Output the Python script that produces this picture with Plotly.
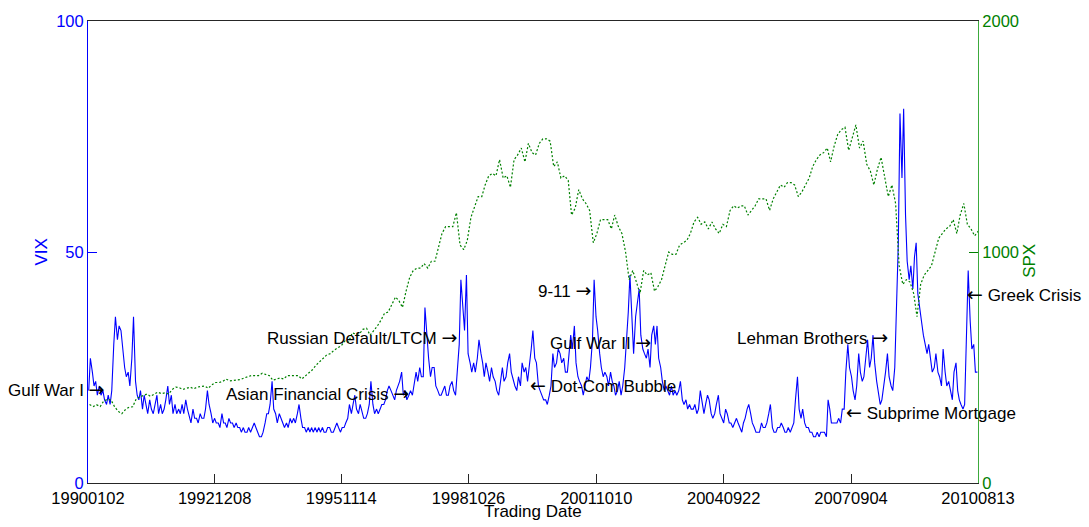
import plotly.graph_objects as go
import pandas as pd

# VIX: two readings per month (around the 8th and the 22nd), Jan 1990 .. Aug 2010
vix = [
    # 1990
    20, 27, 24, 21, 22, 19, 21, 19, 20, 18, 17, 19, 17, 20, 30, 36, 31, 34, 33, 29, 25, 23, 24, 21,
    # 1991
    27, 36, 22, 19, 18, 20, 16, 19, 17, 15, 18, 16, 15, 17, 19, 15, 17, 15, 16, 18, 21, 17, 19, 15,
    # 1992
    17, 15, 16, 15, 17, 15, 18, 16, 14, 13, 16, 14, 14, 13, 15, 14, 14, 16, 20, 17, 15, 13, 14, 13,
    # 1993
    13, 12, 15, 13, 13, 12, 14, 13, 13, 12, 13, 12, 12, 11, 12, 11, 11, 12, 11, 12, 13, 12, 11, 10,
    # 1994
    10, 11, 13, 15, 15, 17, 22, 16, 15, 13, 15, 14, 13, 12, 13, 12, 14, 13, 14, 13, 15, 17, 14, 12,
    # 1995
    12, 11, 12, 11, 12, 11, 12, 11, 12, 11, 12, 11, 11, 12, 12, 11, 11, 12, 13, 12, 11, 12, 12, 13,
    # 1996
    14, 17, 15, 17, 19, 16, 15, 17, 15, 14, 14, 15, 17, 22, 17, 15, 16, 15, 16, 17, 17, 18, 20, 21,
    # 1997
    20, 19, 18, 20, 21, 22, 24, 19, 20, 18, 19, 20, 19, 21, 24, 22, 25, 23, 23, 38, 31, 27, 23, 25,
    # 1998
    25, 21, 20, 19, 19, 20, 21, 19, 19, 21, 22, 20, 19, 24, 30, 44, 38, 33, 45, 28, 26, 24, 26, 24,
    # 1999
    27, 31, 28, 26, 23, 26, 24, 22, 25, 23, 22, 20, 19, 22, 25, 22, 23, 26, 28, 24, 22, 21, 20, 23,
    # 2000
    21, 26, 24, 25, 22, 25, 29, 33, 27, 26, 21, 20, 19, 18, 18, 17, 19, 21, 28, 25, 26, 29, 28, 26,
    # 2001
    27, 24, 24, 28, 32, 29, 34, 26, 23, 22, 21, 19, 21, 23, 22, 25, 31, 44, 36, 33, 28, 25, 23, 24,
    # 2002
    23, 21, 24, 22, 21, 19, 20, 22, 19, 21, 25, 30, 37, 45, 34, 28, 36, 39, 42, 32, 29, 28, 27, 29,
    # 2003
    25, 32, 34, 30, 34, 27, 25, 22, 20, 21, 20, 19, 21, 19, 20, 19, 20, 22, 18, 17, 18, 16, 17, 16,
    # 2004
    16, 17, 15, 16, 20, 18, 15, 17, 19, 18, 15, 14, 15, 17, 19, 15, 14, 13, 16, 15, 13, 13, 12, 13,
    # 2005
    14, 13, 12, 11, 13, 14, 16, 17, 15, 13, 12, 11, 11, 11, 13, 12, 12, 13, 15, 17, 12, 11, 11, 12,
    # 2006
    12, 13, 12, 11, 11, 12, 11, 12, 13, 18, 23, 16, 14, 16, 13, 12, 12, 11, 11, 10, 10, 11, 10, 11,
    # 2007
    11, 11, 10, 18, 16, 13, 13, 13, 13, 14, 13, 16, 16, 24, 30, 25, 23, 20, 18, 21, 28, 24, 22, 23,
    # 2008
    27, 31, 25, 27, 32, 26, 22, 20, 17, 18, 21, 24, 28, 23, 21, 20, 25, 36, 52, 80, 66, 81, 58, 48,
    # 2009
    44, 47, 42, 49, 52, 41, 37, 35, 32, 30, 28, 30, 26, 24, 25, 28, 24, 23, 21, 29, 24, 21, 22, 20,
    # 2010
    18, 24, 26, 20, 18, 17, 16, 17, 33, 46, 35, 29, 30, 24, 24,
]

# SPX: one reading per month (mid-month), Jan 1990 .. Aug 2010
spx = [
    340, 331, 339, 331, 355, 362, 360, 330, 310, 300, 318, 328,
    330, 365, 372, 380, 385, 375, 385, 393, 387, 390, 385, 405,
    415, 412, 405, 410, 415, 408, 415, 418, 420, 410, 425, 435,
    435, 440, 450, 442, 445, 448, 448, 455, 460, 465, 465, 465,
    475, 470, 465, 445, 450, 455, 450, 465, 465, 465, 465, 450,
    465, 480, 490, 510, 525, 540, 555, 560, 575, 585, 595, 615,
    610, 650, 645, 645, 665, 670, 640, 660, 680, 705, 735, 740,
    770, 805, 790, 760, 830, 890, 920, 930, 930, 950, 930, 960,
    960, 1030, 1080, 1110, 1110, 1110, 1170, 1030, 1010, 1050, 1150, 1190,
    1240, 1240, 1290, 1330, 1340, 1330, 1400, 1320, 1330, 1280, 1400, 1420,
    1450, 1390, 1470, 1430, 1420, 1470, 1490, 1490, 1480, 1370, 1390, 1320,
    1330, 1310, 1160, 1190, 1270, 1230, 1210, 1180, 1040, 1080, 1140, 1140,
    1140, 1100, 1160, 1110, 1080, 1000, 880, 920, 870, 820, 920, 900,
    910, 830, 850, 880, 940, 1000, 990, 990, 1030, 1040, 1050, 1080,
    1130, 1150, 1120, 1130, 1100, 1130, 1100, 1080, 1120, 1110, 1180, 1200,
    1190, 1200, 1200, 1160, 1180, 1200, 1230, 1230, 1230, 1180, 1230, 1260,
    1290, 1280, 1300, 1300, 1290, 1240, 1260, 1290, 1320, 1370, 1400, 1420,
    1430, 1450, 1390, 1460, 1510, 1530, 1540, 1440, 1500, 1550, 1450, 1480,
    1380, 1350, 1290, 1360, 1410, 1330, 1240, 1290, 1210, 940, 860, 880,
    870, 820, 720, 860, 900, 920, 940, 1000, 1060, 1080, 1100, 1110,
    1140, 1080, 1160, 1210, 1120, 1100, 1070, 1090,
]

tick_dates = ["1990-01-02", "1992-12-08", "1995-11-14", "1998-10-26",
              "2001-10-10", "2004-09-22", "2007-09-04", "2010-08-13"]
tick_labels = ["19900102", "19921208", "19951114", "19981026",
               "20011010", "20040922", "20070904", "20100813"]

events = ["Gulf War I", "Asian Financial Crisis", "Russian Default/LTCM",
          "Dot-Com Bubble", "9-11", "Gulf War II",
          "Lehman Brothers", "Subprime Mortgage", "Greek Crisis"]
event_side = ["right", "right", "right", "left", "right", "right", "right", "left", "left"]
event_dates = ["1990-06-07", "1997-06-20", "1998-07-29", "2000-03-21", "2001-08-31",
               "2003-01-21", "2008-07-17", "2007-07-16", "2010-05-05"]
event_vix = [20.3, 19.5, 31.7, 21.2, 41.7, 30.5, 31.5, 15.4, 41.0]

vix_dates = pd.date_range("1990-01-01", periods=len(vix), freq="SMS") + pd.Timedelta(days=7)
spx_dates = pd.date_range("1990-01-01", periods=len(spx), freq="MS") + pd.Timedelta(days=14)

FONT = "Liberation Sans, Arial, Helvetica, sans-serif"
BLUE = "rgb(0,0,255)"
GREEN = "rgb(0,128,0)"

fig = go.Figure()
fig.add_trace(go.Scatter(x=vix_dates, y=vix, mode="lines",
                         line=dict(color=BLUE, width=1.1), yaxis="y", name="VIX"))
fig.add_trace(go.Scatter(x=spx_dates, y=spx, mode="lines",
                         line=dict(color=GREEN, width=1.2, dash="2px,2px"), yaxis="y2", name="SPX"))

rarrow = '<span style="font-family:DejaVu Sans;font-size:19px">\u2192</span>'
larrow = '<span style="font-family:DejaVu Sans;font-size:19px">\u2190</span>'

annotations = []
for txt, side, d, v in zip(events, event_side, event_dates, event_vix):
    label = f"{txt} {rarrow}" if side == "right" else f"{larrow} {txt}"
    annotations.append(dict(x=d, y=v, xref="x", yref="y", text=label, showarrow=False,
                            xanchor="right" if side == "right" else "left",
                            yanchor="middle", borderpad=0,
                            font=dict(family=FONT, size=17, color="black")))

annotations += [
    dict(x=-0.0517, y=0.501, xref="paper", yref="paper", text="VIX", textangle=-90,
         showarrow=False, xanchor="center", yanchor="middle",
         font=dict(family=FONT, size=17, color=BLUE)),
    dict(x=1.058, y=0.48, xref="paper", yref="paper", text="SPX", textangle=-90,
         showarrow=False, xanchor="center", yanchor="middle",
         font=dict(family=FONT, size=17, color=GREEN)),
    dict(x=0.5, y=-0.062, xref="paper", yref="paper", text="Trading Date",
         showarrow=False, xanchor="center", yanchor="middle",
         font=dict(family=FONT, size=17, color="black")),
]

fig.update_layout(
    width=1089, height=527,
    margin=dict(l=88, r=111, t=16, b=44, pad=0),
    paper_bgcolor="white", plot_bgcolor="white",
    showlegend=False,
    font=dict(family=FONT, size=16),
    xaxis=dict(type="date", range=["1990-01-02", "2010-08-13"],
               tickmode="array", tickvals=tick_dates, ticktext=tick_labels,
               ticks="inside", ticklen=9, tickcolor="#262626",
               showline=True, linecolor="#262626", linewidth=1, mirror=True,
               showgrid=False, zeroline=False,
               tickfont=dict(family=FONT, size=16.5, color="black")),
    yaxis=dict(range=[0, 100], tickmode="array", tickvals=[0, 50, 100],
               ticks="inside", ticklen=9, tickcolor=BLUE,
               showline=True, linecolor=BLUE, linewidth=1,
               showgrid=False, zeroline=False,
               tickfont=dict(family=FONT, size=16.5, color=BLUE)),
    yaxis2=dict(range=[0, 2000], overlaying="y", side="right",
                tickmode="array", tickvals=[0, 1000, 2000],
                ticks="inside", ticklen=9, tickcolor=GREEN,
                showline=True, linecolor="rgb(60,170,60)", linewidth=1,
                showgrid=False, zeroline=False,
                tickfont=dict(family=FONT, size=16.5, color=GREEN)),
    annotations=annotations,
)

fig.write_html("out.html")
